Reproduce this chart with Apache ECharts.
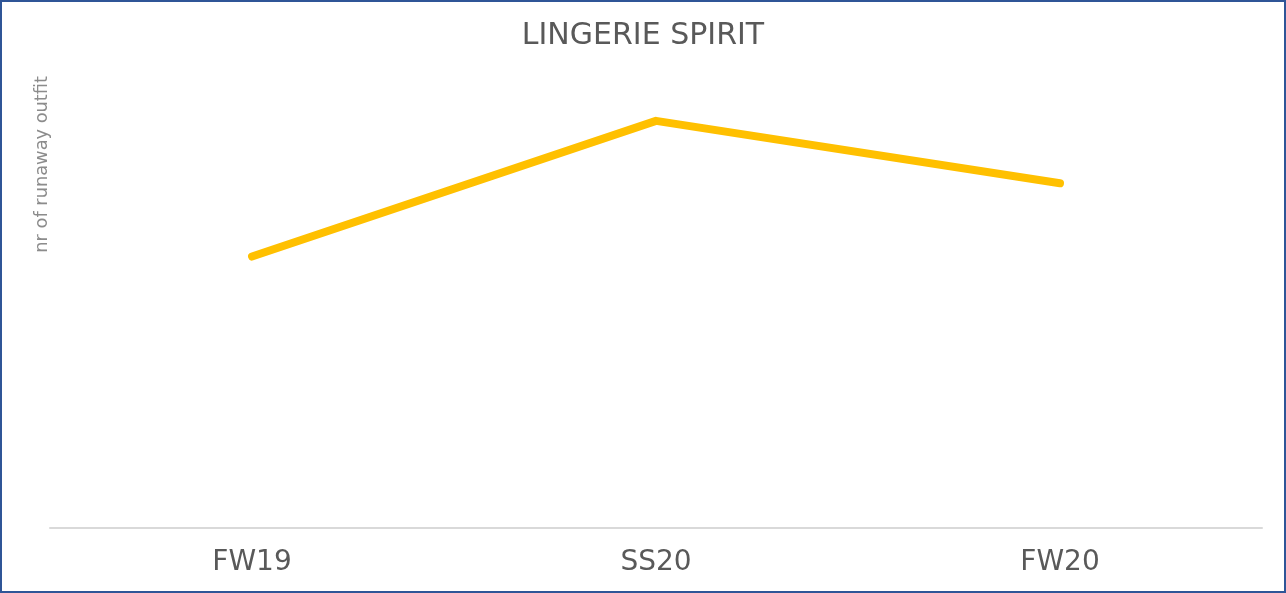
<!DOCTYPE html>
<html>
<head>
<meta charset="utf-8">
<script src="https://cdn.jsdelivr.net/npm/echarts@6/dist/echarts.min.js"></script>
<style>
html,body{margin:0;padding:0;background:#fff;}
#wrap{position:absolute;left:0;top:0;width:1282px;height:589px;border:2px solid #2F5597;}
#chart{width:1282px;height:589px;}
</style>
</head>
<body>
<div id="wrap"><div id="chart"></div></div>
<script>
const categories = ['FW19', 'SS20', 'FW20'];
const values = [20, 30, 25.4];
const titleText = 'LINGERIE SPIRIT';
const yAxisName = 'nr of runaway outfit';

const chart = echarts.init(document.getElementById('chart'));
chart.setOption({
  animation: false,
  title: {
    text: titleText,
    left: 'center',
    top: 14,
    textStyle: {fontFamily: 'DejaVu Sans', fontWeight: 'normal', fontSize: 30, color: '#595959'}
  },
  graphic: [{
    type: 'text',
    left: 31,
    top: 74,
    rotation: Math.PI / 2,
    style: {text: yAxisName, font: 'normal 17.8px "DejaVu Sans"', fill: '#8c8c8c'}
  }],
  grid: {left: 48, right: 22, top: 51, bottom: 63},
  xAxis: {
    type: 'category',
    data: categories,
    boundaryGap: true,
    axisLine: {lineStyle: {color: '#d9d9d9', width: 2}},
    axisTick: {show: false},
    axisLabel: {fontFamily: 'DejaVu Sans', fontSize: 28, color: '#595959', margin: 21}
  },
  yAxis: {
    type: 'value',
    min: 0,
    max: 35,
    show: false,
    splitLine: {show: false}
  },
  series: [{
    type: 'line',
    data: values,
    symbol: 'none',
    lineStyle: {color: '#FFC000', width: 8, cap: 'round', join: 'round'}
  }]
});
</script>
</body>
</html>
